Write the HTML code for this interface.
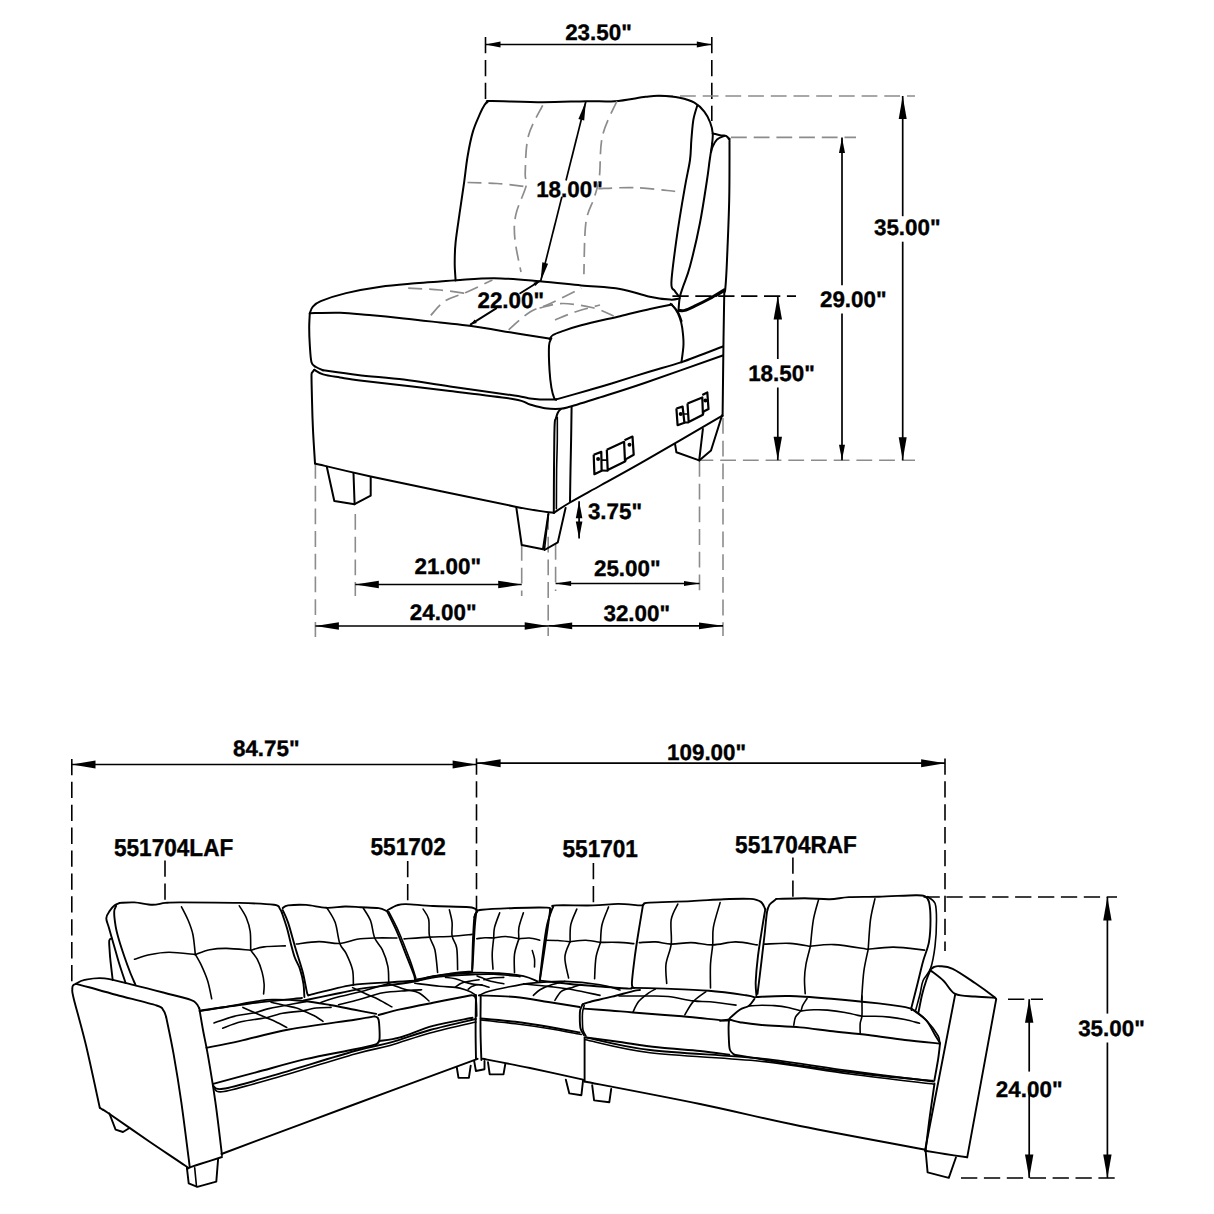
<!DOCTYPE html>
<html><head><meta charset="utf-8"><style>
html,body{margin:0;padding:0;background:#fff;}
body{width:1214px;height:1214px;overflow:hidden;}
svg{display:block;}
.o{fill:none;stroke:#000;stroke-width:2;stroke-linecap:round;stroke-linejoin:round;}
.s{fill:none;stroke:#000;stroke-width:1.9;stroke-linecap:round;stroke-linejoin:round;}
.f{fill:none;stroke:#000;stroke-width:1.6;stroke-linecap:round;stroke-linejoin:round;}
.d{fill:none;stroke:#000;stroke-width:1.7;}
.a{fill:none;stroke:#000;stroke-width:3;stroke-linecap:round;}
.h{fill:none;stroke:#000;stroke-width:2.2;stroke-linejoin:round;}
.g{fill:none;stroke:#8c8c8c;stroke-width:1.6;stroke-dasharray:15.8 6.9;}
.gc{fill:none;stroke:#8c8c8c;stroke-width:1.7;stroke-dasharray:14 7;}
.k{fill:none;stroke:#000;stroke-width:1.6;stroke-dasharray:16.3 6.6;}
.ah{fill:#000;stroke:none;}
.t{font-family:"Liberation Sans",sans-serif;font-weight:bold;fill:#000;stroke:#000;stroke-width:0.35;text-rendering:geometricPrecision;}
</style></head><body>
<svg width="1214" height="1214" viewBox="0 0 1214 1214">
<path class="k" d="M485.5 37L485.5 101"/>
<path class="k" d="M711.8 37L711.8 121"/>
<path class="d" d="M485.5 44.5L711.8 44.5"/>
<path class="ah" d="M485.5 44.5L500.5 41.5L500.5 47.5Z"/>
<path class="ah" d="M711.8 44.5L696.8 47.5L696.8 41.5Z"/>
<text class="t" x="598.5" y="40" font-size="22.4" text-anchor="middle">23.50"</text>
<path class="g" d="M657.3 96L915 96"/>
<path class="g" d="M731 137.4L856 137.4"/>
<path class="g" d="M697.5 460.2L915 460.2"/>
<path class="k" d="M672.4 296.1L796 296.1"/>
<path class="d" d="M902.7 96L902.7 216.2"/>
<path class="d" d="M902.7 241.7L902.7 460.2"/>
<path class="ah" d="M902.7 96L906.7 119L898.7 119Z"/>
<path class="ah" d="M902.7 460.2L898.7 437.2L906.7 437.2Z"/>
<text class="t" x="907.3" y="234.6" font-size="22.4" text-anchor="middle">35.00"</text>
<path class="d" d="M842 137.4L842 285.2"/>
<path class="d" d="M842 313.6L842 460.2"/>
<path class="ah" d="M842 137.4L845 152.9L839 152.9Z"/>
<path class="ah" d="M842 460.2L839 444.7L845 444.7Z"/>
<text class="t" x="853.3" y="306.8" font-size="22.4" text-anchor="middle">29.00"</text>
<path class="d" d="M777.8 296.1L777.8 359"/>
<path class="d" d="M777.8 387.5L777.8 460.2"/>
<path class="ah" d="M777.8 296.1L782 319.6L773.6 319.6Z"/>
<path class="ah" d="M777.8 460.2L773.6 436.7L782 436.7Z"/>
<text class="t" x="781.5" y="381" font-size="22.4" text-anchor="middle">18.50"</text>
<path class="d" d="M585.9 101.2L566 180.5"/>
<path class="d" d="M561.9 196.7L540.6 281.4"/>
<path class="ah" d="M585.9 101.2L584.2 120.4L578.4 118.9Z"/>
<path class="ah" d="M540.6 281.4L542.3 262.2L548.1 263.7Z"/>
<text class="t" x="569.5" y="196.9" font-size="22.4" text-anchor="middle">18.00"</text>
<path class="s" d="M539.5 281.2L520.2 293.3"/>
<path class="s" d="M496.2 308.4L470.7 324.4"/>
<path class="ah" d="M539.5 281.2L535.5 286.1L533.4 282.7Z"/>
<path class="ah" d="M470.7 324.4L474.7 319.5L476.8 322.9Z"/>
<text class="t" x="510.8" y="307.7" font-size="22.4" text-anchor="middle">22.00"</text>
<path class="g" d="M315.4 463L315.4 637"/>
<path class="g" d="M355.3 514L355.3 596"/>
<path class="g" d="M521.7 545L521.7 596"/>
<path class="g" d="M548.2 514L548.2 636"/>
<path class="g" d="M555.6 544L555.6 591"/>
<path class="g" d="M699.5 461L699.5 591"/>
<path class="g" d="M723 418L723 636"/>
<path class="d" d="M355.3 584.5L521.7 584.5"/>
<path class="ah" d="M355.3 584.5L378.8 580.7L378.8 588.3Z"/>
<path class="ah" d="M521.7 584.5L498.2 588.3L498.2 580.7Z"/>
<text class="t" x="447.8" y="574.2" font-size="22.4" text-anchor="middle">21.00"</text>
<path class="d" d="M315.4 626L548.2 626"/>
<path class="ah" d="M315.4 626L338.9 622.2L338.9 629.8Z"/>
<path class="ah" d="M548.2 626L524.7 629.8L524.7 622.2Z"/>
<text class="t" x="443.2" y="620.3" font-size="22.4" text-anchor="middle">24.00"</text>
<path class="d" d="M555.6 583.5L699.5 583.5"/>
<path class="ah" d="M555.6 583.5L571.1 580.9L571.1 586.1Z"/>
<path class="ah" d="M699.5 583.5L684 586.1L684 580.9Z"/>
<text class="t" x="627.3" y="575.7" font-size="22.4" text-anchor="middle">25.00"</text>
<path class="d" d="M548.2 625.8L723 625.8"/>
<path class="ah" d="M548.2 625.8L572.2 622.4L572.2 629.2Z"/>
<path class="ah" d="M723 625.8L699 629.2L699 622.4Z"/>
<text class="t" x="636.8" y="621.3" font-size="22.4" text-anchor="middle">32.00"</text>
<path class="d" d="M579.1 501.2L579.1 538.5"/>
<path class="ah" d="M579.1 501.2L582.4 518.2L575.8 518.2Z"/>
<path class="ah" d="M579.1 538.5L575.8 521.5L582.4 521.5Z"/>
<text class="t" x="615" y="519" font-size="22.4" text-anchor="middle">3.75"</text>
<path class="o" d="M455.6 280.5C455.5 277.6 454.7 269.6 454.7 263.2C454.7 256.8 454.7 251.1 455.6 242.4C456.5 233.7 458.5 221.3 459.9 211.2C461.3 201.1 462.9 191 464.2 181.8C465.5 172.6 466.2 164.2 467.7 155.8C469.1 147.4 470.9 138.5 472.9 131.6C474.9 124.7 477.9 118.6 479.8 114.2C481.7 109.8 483.2 107 484.5 105C485.8 103 486.2 102.7 487.5 102C488.8 101.3 482.8 101 492 101C501.2 101 527.1 102.2 542.7 102.2C558.4 102.2 573.9 101.4 585.9 101.2C597.9 101 604.8 101.9 614.7 101.2C624.7 100.5 638.1 97.7 645.6 96.8C653.1 95.9 654.1 95.6 659.8 95.8C665.5 96 673.8 96.6 679.6 97.8C685.4 99 690.3 100.4 694.4 102.7C698.5 105 701.7 108.4 704.3 111.7C706.9 115 708.8 118.9 710.2 122.5C711.6 126.1 712.4 129.9 712.7 133.4C713 136.9 712.3 141.7 712.2 143.3"/>
<path class="o" d="M697.4 105.2C696.7 107.6 694.4 113.9 693.4 119.6C692.4 125.3 692 132.6 691.4 139.3C690.8 146 691.1 151.9 690 160C688.9 168.1 687 174.5 684.8 187.7C682.5 200.9 678.7 223.4 676.5 239.2C674.3 255 671.7 273.8 671.4 282.4C671.1 291 673.3 288.4 674.5 290.6C675.7 292.8 677.9 294.9 678.6 295.8"/>
<path class="o" d="M712.2 143.3C711.8 146.1 710.6 153.9 709.7 160C708.8 166.1 708.6 169.6 707 180C705.4 190.4 702.8 208.3 700 222.7C697.2 237.1 692.8 255.7 690 266.3C687.2 276.9 684.8 281.4 683.1 286.5C681.4 291.6 680.6 293.2 679.8 297.2C679 301.2 678.7 308.2 678.5 310.4"/>
<path class="o" d="M712.7 133.4C714.1 133.7 718.9 135 721.1 135.4C723.3 135.8 724.7 135.2 726 135.9C727.3 136.6 728.4 137.9 729 139.3C729.6 140.7 729.5 134.2 729.5 144.3C729.5 154.4 729.6 180.7 729.2 200C728.8 219.3 727.6 245.2 727 260C726.4 274.8 725.8 283.6 725.3 288.8C724.8 294 724.5 290.6 724.3 291"/>
<path class="s" d="M724.5 135.8C723.2 136.4 719 137.6 717 139.5C715 141.4 713.5 144.9 712.5 147C711.5 149.1 711.4 151.2 711.2 152"/>
<path class="a" d="M679 310.4C680 310.4 682.1 311.1 684.7 310.4C687.3 309.7 690.5 308.1 694.6 306.2C698.7 304.3 704.5 301.5 709.4 298.8C714.3 296.1 721.8 291.3 724.3 289.8"/>
<path class="f" d="M716 296.4L724.3 291.4"/>
<path class="o" d="M724.3 291C724.2 299.2 723.8 319.2 723.5 340C723.2 360.8 722.8 403.3 722.6 416"/>
<path class="gc" d="M542.7 105.3C540.3 110.4 531.2 124.9 528.3 136.2C525.4 147.5 525.6 165.1 525.2 173.3C524.9 181.5 527.8 178.8 526.2 185.6C524.7 192.4 517.8 205.5 515.9 214.4C514 223.3 514 229.6 514.9 239.2C515.8 248.8 520 266.5 521 272"/>
<path class="gc" d="M616.8 101.2C614.4 107 605.3 123.5 602.4 136.2C599.5 148.9 600.7 167.1 599.3 177.4C597.9 187.7 596.3 190.4 594.1 198C591.9 205.6 587.6 210 585.9 222.7C584.2 235.4 584.2 265.6 583.9 274.2"/>
<path class="gc" d="M467.5 182.5C472.4 182.7 487.2 182.8 497 183.5C506.8 184.2 521.3 186.1 526.2 186.6"/>
<path class="gc" d="M598.3 188.7C604.5 188.5 622.4 187.2 635.3 187.7C648.2 188.1 668.8 190.8 675.5 191.4"/>
<path class="o" d="M309.8 313.2C310.3 312.1 310.9 308.9 312.7 306.9C314.5 304.9 315.2 303.4 320.8 301.1C326.4 298.8 336.1 295.5 346.1 293.1C356.1 290.7 369.2 288.3 380.7 286.7C392.2 285.1 405.4 284.2 415.3 283.3C425.2 282.4 433.1 282 440 281.5C446.9 281 447.4 280.9 456.4 280.3C465.4 279.8 480.3 278.1 494.2 278.2C508.1 278.3 525 280 539.5 281.2C554 282.4 567.8 284.1 581.2 285.4C594.6 286.7 608.8 287.2 620 289C631.2 290.8 640.2 294.6 648.5 296.4C656.8 298.2 664.8 299.2 670 299.6C675.2 300 678 298.7 679.6 298.5"/>
<path class="o" d="M309.8 313.2C314.9 313.1 330.5 312.4 340.4 312.7C350.3 313 358.6 314.1 369.2 315C379.8 315.9 392 317.1 403.8 318.4C415.6 319.6 428.8 321.2 440 322.5C451.2 323.8 458.9 324.2 471.3 326C483.7 327.8 501.3 330.9 514.2 333C527.2 335.1 543.2 337.6 549 338.5"/>
<path class="o" d="M549.5 339C550.1 338.3 551 336.2 553 335C555 333.8 556.6 333.2 561.3 331.6C566 330 571.4 327.9 581.2 325.3C591 322.7 608.5 318.9 620 316.2C631.5 313.5 641.3 310.9 650 309C658.7 307.1 668.3 305.2 672 304.5"/>
<path class="o" d="M309.8 313.2C309.7 315.6 309.2 322.4 309.2 327.7C309.2 333 309.4 339.2 309.8 345C310.2 350.8 310.5 358.6 311.5 362.3C312.5 366 314.1 365.7 316 367C317.9 368.3 321.9 369.8 323.1 370.3"/>
<path class="o" d="M323.1 370.3C328.9 371.1 344.2 373.4 357.7 375C371.1 376.6 388.4 377.7 403.8 379.6C419.2 381.5 431.6 383.8 450 386.4C468.4 389 500.9 393.5 514.2 395.5C527.5 397.5 525.7 397.9 530 398.5C534.3 399.1 535.6 399.2 540 399.4C544.4 399.5 553.6 399.4 556.3 399.4"/>
<path class="o" d="M551.4 338.2C551 339.5 549.3 340.7 549 346C548.7 351.3 549.1 363.1 549.5 370C549.9 376.9 550.6 383 551.4 387.7C552.2 392.4 553.5 396.4 554.3 398.4C555.1 400.3 556 399.2 556.3 399.4"/>
<path class="o" d="M556.3 399.4C561.8 397.8 580 392.7 589.4 390C598.8 387.3 602.3 386.3 612.4 383.2C622.5 380.1 638.5 375 650 371.5C661.5 368 669.5 366.3 681.6 362.1C693.7 357.9 715.9 349.1 722.7 346.5"/>
<path class="o" d="M670.7 303.8C671.5 304.8 674.2 307.2 675.7 309.5C677.2 311.8 678.7 314.8 679.8 317.8C680.9 320.8 681.6 323.3 682.2 327.7C682.8 332.1 683.6 338.3 683.5 344.1C683.4 349.9 681.8 359.3 681.4 362.3"/>
<path class="f" d="M672.4 305.4C673.4 306.5 676.5 309.4 678.1 312C679.7 314.6 681.2 319.6 681.8 321.1"/>
<path class="gc" d="M408.2 288.1C413.5 288.4 430.2 289.1 440 290C449.8 290.9 462.5 293 467 293.6"/>
<path class="gc" d="M430.8 315.3C433.2 312.9 439 304.9 445 301C451 297.1 459.1 295.5 467 292C474.9 288.5 488.2 282 492.4 280"/>
<path class="gc" d="M508.7 329.8C512.2 326.8 523 316.4 530 312C537 307.6 541.9 307.5 550.4 303.5C558.9 299.5 576.1 290.7 581.2 288.1"/>
<path class="gc" d="M539.5 308C543.4 307.2 553.9 303.5 563 303.5C572.1 303.5 585.5 305.9 594 308C602.5 310.1 610.5 314.8 613.8 316.2"/>
<path class="gc" d="M555 320C558.3 318.7 567.5 314.5 575 312C582.5 309.5 595.8 306.2 600 305"/>
<path class="o" d="M314.4 369.8C314 370.2 312.7 371.5 312.2 372.5C311.7 373.5 311.5 371.4 311.5 376C311.5 380.6 311.8 391 312 400C312.2 409 312.5 419.4 313 430C313.5 440.6 314.7 457.9 315 463.5"/>
<path class="o" d="M314.4 369.8C315.8 370.6 318.8 373.1 323.1 374.4C327.4 375.7 333.1 376.4 340 377.5C346.9 378.6 346 378.8 364.3 381C382.6 383.2 425.1 388 450 391C474.9 394 500.7 396.9 514 399.2C527.3 401.4 524.8 403 530 404.5C535.2 406 540 407.5 545 408.2C550 408.9 555.7 409 559.8 408.8C563.9 408.6 563 408.7 569.7 406.8C576.4 404.9 587.4 401.4 600 397.4C612.6 393.4 624.8 389.7 645.3 382.7C665.8 375.7 709.8 360 722.7 355.5"/>
<path class="o" d="M315 463.5C324.3 465.6 337.5 469.2 370.7 476.4C403.9 483.5 483.7 500.3 514.2 506.4C544.7 512.5 547.2 511.7 553.8 512.8"/>
<path class="o" d="M560.8 409C560.3 409.6 558.6 411.1 557.8 412.7C557 414.3 556.3 417.1 555.8 418.7C555.3 420.3 555 418.6 554.8 422.1C554.5 425.7 554.4 432 554.3 440C554.2 448 554.1 457.9 554 470C553.9 482.1 553.8 505.7 553.8 512.8"/>
<path class="f" d="M557.3 417.2C557.3 421 557.4 431.2 557.3 440C557.2 448.8 556.8 458.5 556.6 470C556.5 481.5 556.4 502.3 556.4 508.8"/>
<path class="o" d="M571.6 406.8C571.5 412.3 571.3 429.5 571.1 440C570.9 450.5 570.7 459.8 570.5 470C570.3 480.2 570.1 496 570 501.2"/>
<path class="o" d="M553.8 512.8C556.5 511.1 562.1 507.1 570 502.5C577.9 497.9 588.8 492 601.3 485C613.8 478 624.8 472.2 645 460.6C665.2 449 709.5 423.1 722.4 415.6"/>
<path class="o" d="M326.8 466.7L334.3 501L354.6 504.2L370.7 495.7L370.7 477.5"/>
<path class="o" d="M353.5 473.2L354.6 504.2"/>
<path class="o" d="M516.3 507.4L521.7 545L543 549.2L548.4 513.9"/>
<path class="f" d="M548.4 514L544.5 549.5"/>
<path class="o" d="M565.6 507.9L557.8 542.4L544.5 550"/>
<path class="o" d="M675.1 444.3L676.4 452.3L699.2 460.4L711 450.5L722.1 415.3"/>
<path class="o" d="M702.9 428.9L699.2 460.4"/>
<path class="h" d="M593.7 454.7L601.3 451.9L601.6 470.7L594.4 474.2L593.7 454.7"/>
<path class="f" d="M601.6 460.1L606.8 460.1"/>
<path class="s" d="M601.8 470.5L607.7 470.7"/>
<path class="h" d="M606.8 449.7L624.1 441.8L625 461.6L607.7 470L606.8 449.7"/>
<path class="h" d="M624.5 440.3L632.5 436.6L633.7 454.7L626 459.1L625 461.6"/>
<circle cx="598.1" cy="459.1" r="2" fill="#000"/>
<circle cx="629.5" cy="444.8" r="2" fill="#000"/>
<path class="h" d="M676.4 408.5L682.6 406.6L684.4 422.7L677.6 425.2L676.4 408.5"/>
<path class="f" d="M684.4 414L687.5 414"/>
<path class="s" d="M684.4 422.5L688.1 422.5"/>
<path class="h" d="M687.5 403.5L702.3 397.4L702.9 414.7L688.7 422.1L687.5 403.5"/>
<path class="h" d="M702.3 394.9L707.3 392.4L708.5 409.1L703.6 411.6L702.9 414.7"/>
<circle cx="680.7" cy="414" r="2" fill="#000"/>
<circle cx="705.4" cy="400.4" r="2" fill="#000"/>
<path class="k" d="M71.8 758.9L71.8 982"/>
<path class="k" d="M476.5 758.4L476.5 911"/>
<path class="k" d="M945 758.4L945 951"/>
<path class="d" d="M71.8 764.5L476.3 764.5"/>
<path class="ah" d="M71.8 764.5L95.5 760.5L95.5 768.5Z"/>
<path class="ah" d="M476.3 764.5L452.6 768.5L452.6 760.5Z"/>
<text class="t" x="266.3" y="756" font-size="22.4" text-anchor="middle">84.75"</text>
<path class="d" d="M476.7 763.2L945 763.2"/>
<path class="ah" d="M476.7 763.2L500.6 759.2L500.6 767.2Z"/>
<path class="ah" d="M945 763.2L921.1 767.2L921.1 759.2Z"/>
<text class="t" x="706.6" y="760" font-size="22.4" text-anchor="middle">109.00"</text>
<text class="t" transform="translate(173.6 856.4) scale(1 1.08)" font-size="22.6" text-anchor="middle">551704LAF</text>
<text class="t" transform="translate(408.2 854.5) scale(1 1.08)" font-size="22.6" text-anchor="middle">551702</text>
<text class="t" transform="translate(600.2 857) scale(1 1.08)" font-size="22.6" text-anchor="middle">551701</text>
<text class="t" transform="translate(796 853.4) scale(1 1.08)" font-size="22.6" text-anchor="middle">551704RAF</text>
<path class="k" d="M165 860.5L165 903"/>
<path class="k" d="M407.7 861L407.7 904"/>
<path class="k" d="M593.4 863L593.4 904"/>
<path class="k" d="M792.9 857.5L792.9 900"/>
<path class="k" d="M923.5 897L1117 897"/>
<path class="k" d="M1008 999.2L1043 999.2"/>
<path class="k" d="M961 1178L1119 1178"/>
<path class="d" d="M1107.4 897L1107.4 1013.6"/>
<path class="d" d="M1107.4 1042.5L1107.4 1177.9"/>
<path class="ah" d="M1107.4 897L1111.6 920.5L1103.2 920.5Z"/>
<path class="ah" d="M1107.4 1177.9L1103.2 1154.4L1111.6 1154.4Z"/>
<text class="t" x="1111.5" y="1035.5" font-size="22.4" text-anchor="middle">35.00"</text>
<path class="d" d="M1029.2 999.2L1029.2 1071.6"/>
<path class="d" d="M1029.2 1092.1L1029.2 1177.9"/>
<path class="ah" d="M1029.2 999.2L1033.4 1022.7L1025 1022.7Z"/>
<path class="ah" d="M1029.2 1177.9L1025 1154.4L1033.4 1154.4Z"/>
<text class="t" x="1029.2" y="1096.7" font-size="22.4" text-anchor="middle">24.00"</text>
<path class="s" d="M76 983.8C75.5 984.1 73.6 984.6 73 985.5C72.4 986.4 72.2 986.8 72.3 989C72.4 991.2 71.5 989.6 73.8 999C76.1 1008.4 81.7 1027.2 86 1045.3C90.3 1063.4 97.5 1097.4 99.8 1107.8"/>
<path class="s" d="M99.8 1107.8C100.3 1108.2 101.7 1109.2 103 1110C104.3 1110.8 99.6 1107.2 107.4 1112.5C115.2 1117.8 137.1 1133.2 150 1142C162.9 1150.8 178.8 1161.2 185 1165.6C191.2 1170 186.7 1167.9 187 1168.4"/>
<path class="s" d="M166.1 1016.8C167.4 1023.1 171.2 1040.5 173.7 1054.7C176.2 1068.9 178.6 1083.3 181.3 1102.1C184 1120.9 188.4 1156.6 189.8 1167.5"/>
<path class="s" d="M76 983.8C78.3 984.4 83.2 985.6 90 987.5C96.8 989.4 105.7 992 116.8 995C127.9 998 148.8 1003 156.6 1005.5C164.3 1008 161.7 1008.3 163.3 1010.2C164.9 1012.1 165.6 1015.7 166.1 1016.8"/>
<path class="s" d="M76 983.8C77.4 983.1 79.8 980.8 84.6 979.9C89.3 979 96 977.4 104.5 978.4C113 979.4 125.7 983.2 135.8 985.6C145.9 988 155.8 990.6 165 993C174.2 995.4 185.5 998 190.7 999.8C195.9 1001.6 195 1002.2 196.4 1003.6C197.8 1005 198.8 1007.5 199.3 1008.3"/>
<path class="s" d="M199.3 1008.3C199.9 1011.9 201.6 1022.3 203 1030C204.4 1037.7 205.7 1042.7 207.8 1054.7C209.9 1066.7 213 1085.3 215.4 1102.1C217.8 1118.8 220.9 1146.3 222 1155.2"/>
<path class="s" d="M187 1168.4C189.2 1167.7 194.2 1165.9 200 1164C205.8 1162.1 218.3 1158.2 222 1157"/>
<path class="s" d="M109.4 1113.5L115.6 1129.6L123 1132L129.5 1128"/>
<path class="s" d="M186.9 1167.8L188.7 1183.4L197.3 1186.9L216.3 1181.7L218.1 1159.2"/>
<path class="f" d="M194.7 1167.9L196.5 1186.5"/>
<path class="s" d="M119.7 902.9C118.9 903.3 116.4 904 114.7 905.3C113 906.6 111.2 908.6 109.8 910.8C108.4 912.9 106.4 915.3 106.3 918.2C106.2 921.1 107.8 923.6 109 928C110.2 932.4 112 938.6 113.7 944.4C115.4 950.2 117 956.6 119 963C121 969.4 124.5 979.7 125.6 983"/>
<path class="s" d="M111.8 938.5C111.4 938.8 109.7 938.5 109.3 940.4C108.9 942.3 109.4 946.9 109.6 950C109.8 953.1 109.8 954.2 110.3 959.2C110.8 964.2 112.3 976.5 112.7 980"/>
<path class="s" d="M119.7 902.9C122.2 902.8 129.1 902.1 134.5 902.4C139.9 902.7 147.2 904.7 152.3 904.8C157.4 904.9 160.6 903.3 165.2 902.9C169.8 902.5 167.7 902.4 180 902.4C192.3 902.4 223.6 902.5 239.3 902.9C255 903.3 267.2 903.8 274 904.8C280.8 905.8 278.6 907.5 279.9 908.8C281.2 910.1 281.6 912.1 281.9 912.8"/>
<path class="s" d="M116.2 905.8C115.9 906.8 114.3 908.3 114.2 911.8C114.1 915.3 114.9 921.9 115.7 926.6C116.5 931.3 117.5 934.9 119 940C120.5 945.1 122.8 952 124.6 957.3C126.4 962.6 128.2 967.4 130 972C131.8 976.6 134.6 982.8 135.5 985"/>
<path class="s" d="M281.9 912.8C282.7 915.3 285.3 922.5 286.8 927.6C288.3 932.7 289.5 938.5 290.8 943.4C292.1 948.3 293.2 953 294.7 957.3C296.2 961.6 298.5 964.6 300 969.1C301.5 973.6 302.8 979.6 303.5 984.2C304.2 988.9 304.2 994.9 304.4 997"/>
<path class="f" d="M181.5 906.8C182.6 908.9 186 915.1 187.9 919.7C189.8 924.3 191.7 928.7 192.9 934.5C194.1 940.3 194.9 951 195.3 954.3"/>
<path class="f" d="M195.3 954.3C196.2 955.9 198.7 959.8 200.8 964.2C202.9 968.7 205.9 975.2 207.7 981C209.5 986.8 211 995.8 211.7 998.8"/>
<path class="f" d="M239.3 905.8C240.5 907.8 244.5 913.4 246.3 917.7C248.1 922 249.5 926.1 250.2 931.5C250.9 936.9 250.6 947.2 250.7 950.3"/>
<path class="f" d="M250.7 950.3C251.8 951.8 255.3 955.6 257.2 959.2C259.1 962.8 261 968 262.1 972.1C263.2 976.2 263.9 980.4 264.1 984C264.4 987.6 263.7 992.2 263.6 993.9"/>
<path class="f" d="M134.5 959.2C137 958.5 143.5 955.9 149.3 954.8C155.1 953.6 161.4 952.3 169.1 952.3C176.8 952.3 190.9 954.2 195.3 954.6"/>
<path class="f" d="M195.3 954.6C197.7 953.8 204.5 950.8 209.7 949.8C214.9 948.8 219.7 948.3 226.5 948.4C233.3 948.5 246.7 950 250.7 950.3"/>
<path class="f" d="M250.7 950.3C252.9 949.7 258.3 947.6 264.1 946.9C269.9 946.2 281.8 946.1 285.3 945.9"/>
<path class="s" d="M199.6 1011C208 1009.8 232.9 1005.7 250 1003.5C267.1 1001.3 293.3 998.9 302 998"/>
<path class="s" d="M282.7 908.1C283.6 907.6 284.2 905.9 288.1 905.4C292 904.9 299.9 904.5 306.2 904.9C312.5 905.3 319.7 907.5 326.2 907.8C332.7 908.1 339.3 906.6 345 906.5C350.7 906.4 355 906.9 360.6 907.2C366.2 907.5 374.5 907.5 378.7 908.1C382.9 908.7 384.8 910.3 386 910.8"/>
<path class="s" d="M282.7 910C283.6 912.1 286 916.3 288.1 922.6C290.2 928.9 293 939.8 295.4 948C297.8 956.2 300.6 964.1 302.6 971.6C304.6 979.1 306.1 989.4 307.2 993.3C308.3 997.2 308.7 994.8 309 995.1"/>
<path class="s" d="M309 995.1C316.1 993.4 338.5 987.2 351.6 985.1C364.7 983 377.2 983.1 387.8 982.4C398.4 981.6 410.5 980.9 415 980.6"/>
<path class="s" d="M386.9 910.8C388.6 914.3 393.4 923.7 396.9 931.7C400.4 939.7 404.8 951.7 407.7 958.9C410.6 966.1 412.8 971.6 414 975C415.2 978.4 414.8 978.8 415 979.5"/>
<path class="f" d="M388.7 911.7C390.4 915 395.2 923.8 398.7 931.7C402.2 939.6 406.6 951.2 409.5 958.9C412.4 966.6 414.8 974.8 415.8 978"/>
<path class="f" d="M327.1 908.1C328.5 910.5 333.1 916.7 335.2 922.6C337.3 928.5 338 938.4 339.8 943.5C341.6 948.6 344 949 346.1 953.4C348.2 957.8 351.3 964.4 352.5 969.7C353.7 975 353.2 982.5 353.4 985.1"/>
<path class="f" d="M363.3 908.1C364.5 910.2 368.7 915.8 370.6 920.8C372.5 925.8 372.7 933.2 374.7 938C376.7 942.8 380.2 945.1 382.4 949.8C384.6 954.5 386.8 960.7 387.8 966.1C388.9 971.5 388.6 979.7 388.7 982.4"/>
<path class="f" d="M296.3 944C300.1 943.6 311.6 941.7 318.9 941.6C326.1 941.5 333.4 943.9 339.8 943.5C346.2 943.1 351.2 940.2 357 939.3C362.8 938.4 368.1 938.2 374.7 938C381.3 937.8 393.2 938 396.9 938"/>
<path class="s" d="M387.8 910C389.3 909.2 393.9 906.4 396.9 905.4C399.9 904.4 399.9 904 405.9 904.1C411.9 904.2 422.5 905.5 433.1 906C443.7 906.5 462.1 906.5 469.3 907.2C476.6 907.9 475.4 909.5 476.6 910"/>
<path class="s" d="M476.6 910C476.3 912.7 475.4 918.1 474.8 926.2C474.2 934.4 473.4 951.3 473 958.9C472.6 966.5 472.2 969.5 472.1 971.6"/>
<path class="s" d="M415 979.7C421 978.7 441.7 974.8 451.2 973.4C460.7 972 468.6 971.9 472.1 971.6"/>
<path class="f" d="M423.1 909C424 910.7 427.5 914.5 428.6 919C429.7 923.5 428.4 931.1 429.5 936.2C430.6 941.3 433.5 943.8 434.9 949.8C436.2 955.8 437.2 968.7 437.6 972.5"/>
<path class="f" d="M449.4 909.9C449.8 912 451.7 918.2 452.1 922.6C452.6 927 451.3 932 452.1 936.2C452.9 940.4 455.8 942.4 456.7 948C457.6 953.6 457.5 966.1 457.6 969.7"/>
<path class="f" d="M404.1 938.9C408.3 938.6 421.5 937.5 429.5 937.1C437.5 936.7 445 936.7 452.1 936.2C459.2 935.8 468.8 934.7 472.1 934.4"/>
<path class="s" d="M474.4 917.2C474.8 916.4 475.4 913.3 476.7 912.1C477.9 910.9 475.6 910.5 481.9 909.8C488.2 909.1 503.6 908.4 514.5 908C525.4 907.6 541.2 907.3 547.1 907.6C553 907.9 549.6 909.4 550.1 909.8"/>
<path class="s" d="M550.1 909.8C550 910.7 550 911.3 549.5 915C549 918.7 548.2 924.3 547.1 932.1C546 939.9 543.9 953.6 542.7 961.7C541.5 969.9 540.2 977.8 539.7 981"/>
<path class="s" d="M476.7 912.1C476.3 913 475 912.6 474.4 917.2C473.8 921.8 473.4 930.9 473 939.5C472.6 948.1 472.3 964.2 472.2 969.1"/>
<path class="f" d="M499.7 912.8C498.8 915.3 495.5 923.4 494.5 927.6C493.5 931.8 493.8 936.3 493.7 938"/>
<path class="f" d="M493.7 938C493.4 940.7 492.3 949.1 492.2 954.3C492.1 959.5 492.9 966.6 493 969.1"/>
<path class="f" d="M523.4 912.8C522.6 915.3 519.6 923.3 518.9 927.6C518.1 931.9 518.9 936.9 518.9 938.7"/>
<path class="f" d="M518.9 938.7C518.2 941.3 515.2 948.6 514.5 954.3C513.8 960 514.5 969.7 514.5 972.8"/>
<path class="f" d="M476.7 938.7C478.1 938.6 482.2 937.9 485 937.8C487.8 937.7 492.2 938 493.7 938"/>
<path class="f" d="M493.7 938C495.7 937.8 501.4 936.4 505.6 936.5C509.8 936.6 516.7 938.3 518.9 938.7"/>
<path class="f" d="M518.9 938.7C520.6 938.6 525.8 937.8 529.3 938C532.8 938.2 538 939.8 539.7 940.2"/>
<path class="f" d="M532.3 950.6C532.7 952 534.1 956.1 534.5 958.8C534.9 961.5 534.5 965.5 534.5 966.9"/>
<path class="s" d="M553 906.9C553.5 906.6 549.3 905.6 556 905.4C562.7 905.1 582.7 905.6 593.1 905.4C603.5 905.1 610.4 903.9 618.3 903.9C626.2 903.9 636.3 905.3 640.5 905.4C644.7 905.5 643 904.7 643.5 904.6"/>
<path class="s" d="M553 906.9C552 909.9 548.8 916.8 547.1 924.7C545.4 932.6 543.9 944.9 542.7 954.3C541.5 963.7 540.2 976.5 539.7 981"/>
<path class="f" d="M576.8 909.1C575.8 911.7 571.9 919.3 570.8 924.7C569.7 930.1 570.2 938.9 570.1 941.7"/>
<path class="f" d="M570.1 941.7C569.2 944.3 565.1 951.2 564.9 957.3C564.6 963.3 568 974.5 568.6 978"/>
<path class="f" d="M608.6 906.9C607.5 909.9 603.4 918.8 602 924.7C600.6 930.6 600.8 939.5 600.5 942.4"/>
<path class="f" d="M600.5 942.4C599.8 944.9 597 951.2 596 957.3C595 963.4 594.8 975.2 594.6 978.8"/>
<path class="f" d="M545.6 940.2C547.7 940.2 553.9 940.2 558 940.5C562.1 940.8 568.1 941.5 570.1 941.7"/>
<path class="f" d="M570.1 941.7C572.7 941.5 580.6 940.1 585.7 940.2C590.8 940.3 598 942 600.5 942.4"/>
<path class="f" d="M600.5 942.4C603.5 942.4 612.8 942.2 618.3 942.4C623.8 942.6 631.2 943.4 633.8 943.6"/>
<path class="s" d="M643.7 904.1C644.7 903.9 641.8 903.1 649.7 902.6C657.6 902.1 678.9 901.7 691.2 901.1C703.6 900.5 713.9 899.6 723.8 899.2C733.7 898.8 744.3 898.5 750.5 898.9C756.7 899.3 758.4 900.2 760.9 901.9C763.4 903.6 764.6 908.1 765.3 909.3"/>
<path class="s" d="M643 904.8C642.4 908.5 640.7 918.5 639.3 927.1C637.9 935.8 636 947.3 634.8 956.7C633.6 966.1 632 978.2 631.9 983.4C631.8 988.6 633.7 987.1 634.1 987.9"/>
<path class="s" d="M765.3 909.3C764.8 912.3 763.5 919.2 762.3 927.1C761.1 935 759 947.6 757.9 956.7C756.8 965.8 756 975.5 755.7 981.9C755.5 988.3 756.3 993.1 756.4 995.3"/>
<path class="s" d="M540.3 980.6C545.2 981.2 560 983 570 984C580 985 590.2 985.7 600 986.5C609.8 987.3 623.2 988.4 628.9 988.6C634.6 988.8 628.2 987.9 634.1 987.9C640 987.9 652 988.1 664.5 988.6C677 989.1 695.4 989.7 709 990.8C722.6 991.9 738.3 994.2 746 995.3C753.7 996.4 753.5 997.1 755 997.5"/>
<path class="f" d="M677.8 904.1C676.7 906.7 672.3 913 671.2 919.7C670.1 926.4 672.1 936.7 671.2 944.1C670.3 951.5 666.8 957.6 666 964.1C665.2 970.6 666.6 980.2 666.7 983.4"/>
<path class="f" d="M720.1 902.6C719 906.7 714.6 920.1 713.4 927.1C712.2 934.1 713.2 938.7 712.7 944.9C712.2 951.1 710.9 956.9 710.5 964.1C710.1 971.3 710.5 983.9 710.5 987.9"/>
<path class="f" d="M639.3 942.6C642 942.5 650.3 941.6 655.6 941.9C660.9 942.1 665.3 944 671.2 944.1C677.1 944.2 684.3 942.5 691.2 942.6C698.1 942.7 705.3 945 712.7 944.9C720.1 944.8 728.3 941.9 735.7 941.9C743.1 941.9 753.6 944.4 757.2 944.9"/>
<path class="s" d="M776.3 898.9C775.2 899.9 771 902.6 769.5 904.8C768 907 767.8 907.2 767 912.2C766.2 917.2 765.5 926.3 764.6 934.5C763.7 942.7 762.7 951.3 761.5 961.2C760.3 971.1 758.2 988.4 757.5 993.8"/>
<path class="s" d="M776.3 898.9C781 898.8 795.6 898.2 804.5 898.2C813.4 898.2 822.3 899.4 829.7 899.2C837.1 899 840.9 897.5 849 897.1C857.1 896.7 867.5 897 878.6 896.7C889.7 896.4 908 895.3 915.7 895.2C923.4 895.1 922.4 895.1 924.6 896.2C926.8 897.3 928 898 929 901.9C930 905.8 930.5 913 930.5 919.7C930.5 926.4 930.2 935 929 941.9C927.8 948.8 925.1 954 923.1 961.2C921.1 968.4 919.2 977 917.2 984.9C915.2 992.8 912.2 1004.6 911.2 1008.6"/>
<path class="f" d="M927.6 896.7C928.8 897.8 933.5 899.5 935 903.3C936.5 907.1 936.5 912.5 936.5 919.7C936.5 926.9 936 938.1 935 946.3C934 954.4 932.5 962.9 930.5 968.6C928.5 974.3 924.8 976.3 923.1 980.5C921.4 984.7 921.3 988.9 920.1 993.8C918.9 998.7 916.4 1007.4 915.7 1010.1"/>
<path class="f" d="M818.6 899.6C817.7 903 814.8 911.9 813.4 919.7C812 927.5 810.9 941.9 810.4 946.3"/>
<path class="f" d="M810.4 946.3C809.7 949.3 807 958.6 806 964.1C805 969.6 804.6 974 804.5 979C804.4 984 805.1 991.3 805.2 993.8"/>
<path class="f" d="M874.9 898.9C874.2 902.4 871.6 911.3 870.5 919.7C869.4 928.1 868.6 944.4 868.2 949.3"/>
<path class="f" d="M868.2 949.3C867.5 953 864.9 963.2 863.8 971.6C862.7 980 862 995 861.6 999.7"/>
<path class="f" d="M764.4 944.1C768.6 944 782 943 789.7 943.4C797.4 943.8 807 945.8 810.4 946.3"/>
<path class="f" d="M810.4 946.3C814.4 946 824.5 944.1 834.1 944.6C843.7 945.1 862.5 948.5 868.2 949.3"/>
<path class="f" d="M868.2 949.3C872.4 948.9 884.1 947 893.5 947.1C902.9 947.2 919.4 949.6 924.6 950.1"/>
<path class="s" d="M756 997C761.6 996.8 776.7 995.7 789.7 996C802.7 996.3 819.3 997.8 834.1 999C848.9 1000.2 867.5 1002.2 878.6 1003.4C889.7 1004.6 895.5 1005.5 900.9 1006.4C906.3 1007.3 909.5 1008.2 911.2 1008.6"/>
<path class="s" d="M199.9 1010.6C203.8 1010 213.7 1008.8 223 1007.3C232.3 1005.8 247.7 1002.8 255.9 1001.5C264.1 1000.2 264.4 999.7 272.4 999.6C280.4 999.5 294.1 1000.1 303.7 1001C313.3 1001.9 321.5 1003.5 330 1005C338.5 1006.5 347 1008.3 354.7 1009.8C362.4 1011.3 372.6 1013.2 376.2 1013.9"/>
<path class="s" d="M206.5 1047.7C212 1046.6 225.7 1044.1 239.4 1041.1C253.1 1038.1 269.6 1033.1 288.8 1029.5C308 1025.9 340.4 1021.9 354.7 1019.7C369 1017.5 371.2 1017 374.5 1016.4"/>
<path class="s" d="M213.1 1083.9C220.2 1082 240.5 1076.5 255.9 1072.4C271.3 1068.3 288.8 1063.1 305.3 1059.2C321.8 1055.3 342.9 1051.8 354.7 1049.3C366.5 1046.8 372.6 1045.2 376.2 1044.4"/>
<path class="s" d="M374.5 1016.4C375.2 1017 377.8 1015.9 378.6 1019.7C379.4 1023.5 379.9 1035.3 379.5 1039.4C379.1 1043.5 376.8 1043.6 376.2 1044.4"/>
<path class="f" d="M214 1023C217.2 1021.9 226.3 1018.3 233.1 1016.6C239.9 1014.9 251.3 1013.4 255 1012.8"/>
<path class="f" d="M255 1012.8C257.3 1012.1 263.8 1009.8 268.8 1008.6C273.8 1007.4 278.9 1006.7 285 1005.5C291.1 1004.3 302.2 1002.2 305.7 1001.6"/>
<path class="f" d="M222.7 1028.2C225.8 1027.1 233.8 1023.5 241.1 1021.8C248.4 1020.1 262.3 1018.5 266.5 1017.8"/>
<path class="f" d="M266.5 1017.8C269.2 1017 276.5 1014.4 282.6 1013.2C288.8 1012.1 299.9 1011.3 303.4 1010.9"/>
<path class="f" d="M303.4 1010.9C305.5 1010.4 311.5 1008.6 316.1 1008C320.7 1007.4 328.6 1007.5 331.1 1007.4"/>
<path class="f" d="M242.9 1007.4C244.9 1008.3 251.1 1011.1 255 1012.8C258.9 1014.5 263.1 1016.3 266.5 1017.8C269.9 1019.3 272.3 1020.2 275.7 1021.8C279.1 1023.4 284.9 1026.5 286.7 1027.4"/>
<path class="f" d="M271.1 1002.2C273.4 1002.8 280.8 1004.5 285 1005.5C289.2 1006.5 293.4 1007.1 296.5 1008C299.6 1008.9 300.5 1009.6 303.4 1010.9C306.3 1012.1 310.5 1013.8 313.8 1015.5C317.1 1017.2 321.5 1020.3 323 1021.3"/>
<path class="s" d="M303.7 1000.5C308.9 999.4 325.1 996 335 994C344.9 992 353.8 989.9 363 988.4C372.2 986.9 381.4 986.1 390 985C398.6 983.9 407.6 983 414.8 981.5C422 980 423.4 977.8 433 976.3C442.6 974.8 461.5 973.3 472.5 972.8C483.5 972.3 490.3 972.8 498.8 973.3C507.3 973.8 517.1 974.8 523.6 976.1C530.1 977.5 535.3 980.5 537.6 981.4"/>
<path class="s" d="M378.6 1015C382.2 1014.1 390.9 1011.4 400 1009.4C409.1 1007.4 422.2 1004.9 433 1002.8C443.8 1000.6 458.4 997.7 465 996.5C471.6 995.3 470.7 995 472.5 995.4C474.3 995.8 475.1 995.3 475.8 998.7C476.5 1002.1 476.5 1013.1 476.6 1016"/>
<path class="s" d="M379.5 1041C382.9 1040.4 391.1 1039.9 400 1037.4C408.9 1034.9 420.9 1029.2 433 1025.9C445.1 1022.6 465.9 1019.1 472.5 1017.7"/>
<path class="f" d="M320.8 1002.4C323.5 1001.5 330.7 998.9 337.1 997.2C343.5 995.5 350.9 994.3 359.3 992.1C367.7 989.9 382.8 985.3 387.5 983.9"/>
<path class="f" d="M338.6 1004.7C342.1 1003.8 351.9 1001.5 359.3 999.5C366.7 997.5 375.1 994.3 383 992.8C390.9 991.3 400.4 991.1 406.8 990.6C413.2 990.1 419.1 989.9 421.6 989.8"/>
<path class="f" d="M352.6 987.6C355 988.7 362.4 992.3 366.7 994.3C371 996.3 374.4 997.4 378.6 999.5C382.8 1001.6 389.7 1005.7 391.9 1006.9"/>
<path class="f" d="M387.5 983.2C390.2 984.2 398.6 987.5 403.8 989.1C409 990.7 414.4 990.8 418.6 992.8C422.8 994.8 427.3 999.6 429 1001"/>
<path class="f" d="M414.8 983.3C418.9 983.8 432.7 985.6 439.5 986.3C446.3 987 451 986.8 455.4 987.4C459.8 988 463.4 989.2 466 990C468.6 990.8 469.7 991.4 471.2 992.2C472.7 993 474.5 994.3 475.1 994.7"/>
<path class="f" d="M415.5 981.2C419.5 980.5 430.1 977.9 439.5 976.8C448.9 975.7 463.1 975 472.2 974.6C481.3 974.2 485.9 973.9 493.9 974.2C501.9 974.5 515.6 976.2 520 976.6"/>
<path class="f" d="M445.5 977.4C447.1 977.6 452.1 978 455.4 978.8C458.7 979.6 463.6 981.7 465.2 982.3"/>
<path class="f" d="M455.4 987.2C456.4 986.6 459 984.3 461.3 983.3C463.6 982.3 466.2 981.9 469.2 981.3C472.2 980.7 477.5 980 479.1 979.8"/>
<path class="f" d="M468.2 989.2C468.9 988.7 470.4 987 472.2 986.3C474 985.6 476.3 984.6 479.1 984.8C481.9 984.9 487.4 986.8 489 987.2"/>
<path class="f" d="M477.1 975.9C477.9 976.2 480 977 482 977.8C484 978.6 485.4 979.8 489 980.8C492.6 981.8 501.3 983.3 503.8 983.8"/>
<path class="f" d="M484 979.8C485.6 979.5 490.6 978.2 493.9 977.8C497.2 977.4 502.1 977.5 503.8 977.4"/>
<path class="f" d="M465.2 982.3C466.7 982.6 471.3 983.9 474.1 984.3C476.9 984.7 480.7 984.7 482 984.8"/>
<path class="s" d="M213.1 1085.6C214.8 1086.1 213.1 1090.4 223 1088.8C232.9 1087.2 250.4 1082 272.4 1075.7C294.3 1069.4 335.1 1056.5 354.7 1051C374.3 1045.5 377.4 1046.2 390 1042.7C402.6 1039.2 415.7 1034 430 1030C444.3 1026 468.2 1020.8 475.9 1019"/>
<path class="f" d="M214.5 1089C216.1 1089.4 214.2 1093.2 224 1091.5C233.8 1089.8 251.2 1084.8 273 1078.5C294.8 1072.2 335.5 1059.5 355 1054C374.5 1048.5 377.5 1049 390 1045.5C402.5 1042 415.7 1036.9 430 1033C444.3 1029.1 468.2 1023.8 475.9 1022"/>
<path class="s" d="M221.5 1154C242.9 1146 307.3 1121.9 350 1106C392.7 1090.1 456.3 1066.7 477.6 1058.8"/>
<path class="s" d="M456.8 1067.5L458.5 1077.9L468.9 1077.9L470.7 1065.7"/>
<path class="s" d="M474.1 1060.6L475.9 1071L484.5 1069.2L484.5 1061"/>
<path class="s" d="M488 1062.3L489.7 1074.4L503.5 1074.4L505.3 1064"/>
<path class="s" d="M476 995C475.9 1000.8 475.6 1019.3 475.6 1030C475.6 1040.7 475.9 1054.2 476 1059"/>
<path class="s" d="M480.7 995C480.7 1000.8 480.4 1019.2 480.5 1030C480.6 1040.8 481.2 1055 481.4 1060"/>
<path class="s" d="M479 995.4C485.1 995.7 503.7 995.9 515.3 997C526.8 998.1 537.6 1000.3 548.3 1002C559 1003.7 574.4 1006.2 579.6 1007"/>
<path class="f" d="M479 995.4C480.7 994.7 484.3 992.7 489 991.3C493.7 989.9 500 988.6 507.1 987.2C514.2 985.8 522.2 984.1 531.8 983.1C541.4 982.1 553.3 981.1 564.7 981.4C576.1 981.7 590.8 983.3 600 984.7C609.2 986.1 616.7 989.1 620 990"/>
<path class="s" d="M480.7 1018.5C486.5 1019 504 1020.4 515.3 1021.8C526.6 1023.2 537.6 1024.9 548.3 1026.7C559 1028.5 574.4 1031.5 579.6 1032.5"/>
<path class="f" d="M481 1020C486.7 1020.6 504.1 1022.4 515.3 1023.8C526.5 1025.2 537.3 1026.7 548.3 1028.5C559.3 1030.3 575.7 1033.5 581.2 1034.5"/>
<path class="s" d="M482.8 1058.8C490.7 1060.3 513.3 1064.5 530 1068C546.7 1071.5 574.2 1077.7 583.1 1079.6"/>
<path class="f" d="M533.4 995.4C534.5 994.5 537 991.5 540 989.7C543 987.9 547.5 986.1 551.6 984.7C555.7 983.3 562.5 982 564.7 981.4"/>
<path class="f" d="M554.9 1000.4C556 998.9 558.4 993.5 561.4 991.3C564.4 989.1 569.7 988.3 573 987.2C576.3 986.1 579.8 985 581.2 984.5"/>
<path class="f" d="M523.6 983.9C527.7 984.3 540.1 985.4 548.3 986.4C556.5 987.4 564.4 988.2 573 989.7C581.6 991.2 595.5 994.5 600 995.4"/>
<path class="s" d="M565.8 1079.6L569.3 1093.4L581.4 1095.2L583.1 1080"/>
<path class="s" d="M582.6 1004.4C583.5 1004 583.3 1003.6 588.2 1002.3C593.1 1001 604.5 998.6 612 996.7C619.5 994.8 628.3 992.2 633 991.1C637.7 990 638.8 990.2 640 990"/>
<path class="s" d="M582.6 1004.4C582.2 1005.3 580.7 1007.9 580.2 1010C579.7 1012.1 579.8 1014 579.8 1017C579.8 1020 579.8 1025.2 580.5 1028.2C581.2 1031.2 583.4 1034 584 1035.2"/>
<path class="f" d="M584.2 1005.5C583.9 1006.6 582.9 1009.6 582.6 1012C582.3 1014.4 582.3 1017 582.4 1020C582.5 1023 582.4 1027.3 583 1030C583.6 1032.7 585.5 1035 586 1036"/>
<path class="s" d="M584 1008.6C588.3 1008.9 601.8 1009.9 610 1010.5C618.2 1011.1 621 1011.5 633 1012.5C645 1013.5 666.8 1015 682 1016.3C697.2 1017.6 716.3 1019.9 724 1020.5C731.7 1021.1 727.5 1019.9 728.2 1019.8"/>
<path class="s" d="M586 1037.4C591.7 1038.2 608 1040.3 620 1042C632 1043.7 644.4 1045.8 657.7 1047.3C671 1048.8 688.1 1049.8 700 1051C711.9 1052.2 724.4 1054.1 729.3 1054.7"/>
<path class="f" d="M633 1012.1C633.9 1010.4 636 1004.8 638.6 1001.6C641.2 998.5 645.6 995.3 648.4 993.2C651.2 991.1 654.2 989.7 655.4 989"/>
<path class="f" d="M684.8 1014.9C686.2 1012.7 689.7 1005.5 693.2 1001.6C696.7 997.8 703.7 993.4 705.8 991.8"/>
<path class="f" d="M619 996C623.7 996 638.8 995.9 647 996C655.2 996.1 660.3 995.7 668 996.5C675.7 997.3 686.2 1000 693.2 1000.9C700.2 1001.8 702.9 1001.1 710 1001.8C717.1 1002.5 731.7 1004.5 736 1005.1"/>
<path class="s" d="M754.3 999.1C753.4 1000.2 751.4 1003.9 749 1005.7C746.6 1007.5 742.8 1007.8 739.8 1009.7C736.8 1011.6 733 1015.3 731.2 1016.9C729.4 1018.5 729.6 1018 729.2 1019.5C728.8 1021 728.7 1022.7 728.6 1026.1C728.5 1029.5 728.7 1036 728.9 1040C729.1 1044 729.1 1047.5 730 1050C730.9 1052.5 733.6 1053.9 734.3 1054.7"/>
<path class="s" d="M911.2 1008.6C913.7 1010.5 922 1015.8 926 1020.2C930 1024.6 932.7 1031.2 935 1035C937.3 1038.8 939.2 1041.7 940 1043"/>
<path class="s" d="M720 1020.9C721.5 1020.7 725.9 1019.6 729.2 1019.8C732.5 1020 734.8 1021.4 739.8 1022.2C744.8 1023 749.5 1023.9 759.5 1024.8C769.5 1025.7 788.2 1026.4 800 1027.4C811.8 1028.4 818.6 1029.7 830 1031C841.4 1032.3 855.8 1033.5 868.3 1035C880.8 1036.5 893 1038.6 905 1040C917 1041.4 934.2 1043 940 1043.6"/>
<path class="s" d="M734.3 1054.7C738.6 1055.4 750 1057.3 760 1059C770 1060.7 776.1 1062 794.1 1064.6C812.1 1067.2 845.2 1071.8 868.3 1074.5C891.4 1077.2 921.8 1079.7 932.5 1080.7"/>
<path class="s" d="M940 1043.6C939.7 1046.3 939 1053.8 938 1060C937 1066.2 934.9 1077.4 934.3 1080.9"/>
<path class="f" d="M793.8 1025.1C794.1 1023.8 794.3 1019.5 795.5 1017.1C796.7 1014.7 799.6 1012.8 800.8 1010.9C802 1009 801.6 1007.7 802.6 1005.6C803.6 1003.5 806.3 999.7 807 998.5"/>
<path class="f" d="M860.2 1033.1C860.2 1031.5 859.9 1026.1 860.2 1023.3C860.5 1020.5 861.6 1019.3 861.9 1016.3C862.2 1013.2 862 1008.4 862 1005C862 1001.6 862 997.5 862 996"/>
<path class="f" d="M749 1005.9C751.2 1005.8 757.8 1005.2 762 1005.2C766.2 1005.2 770 1005.2 774.3 1005.6C778.6 1006 783.6 1006.6 788 1007.5C792.4 1008.4 798.7 1010.3 800.8 1010.9"/>
<path class="f" d="M800.8 1010.9C803 1010.7 809.6 1009.9 814 1009.8C818.4 1009.7 822.2 1009.6 827.4 1010.1C832.6 1010.6 839.2 1011.5 845 1012.5C850.8 1013.5 859.1 1015.7 861.9 1016.3"/>
<path class="f" d="M861.9 1016.3C864.1 1016.3 870.4 1016.2 875 1016.3C879.6 1016.4 884.4 1016.6 889.4 1017.1C894.4 1017.6 900 1018.5 905 1019.5C910 1020.5 917.1 1022.7 919.5 1023.3"/>
<path class="s" d="M584.6 1037.9C584.6 1041.6 584.6 1052.7 584.6 1060C584.6 1067.3 584.6 1077.9 584.6 1081.5"/>
<path class="s" d="M584.6 1037.1C595.5 1039.2 620.8 1046.5 650 1050C679.2 1053.5 726.7 1054.9 760 1058.4C793.3 1061.9 821.1 1067.2 850 1071C878.9 1074.8 919.3 1079.8 933.2 1081.5"/>
<path class="f" d="M585.5 1039.8C596.2 1042 620.9 1049.2 650 1052.8C679.1 1056.4 726.7 1057.7 760 1061.2C793.3 1064.7 821 1070.2 850 1074C879 1077.8 920 1082.5 934 1084.2"/>
<path class="s" d="M584.6 1081.5C603.8 1085.2 664.1 1096.6 700 1104C735.9 1111.4 762.4 1118.4 800 1126C837.6 1133.6 904.8 1145.8 925.7 1149.7"/>
<path class="s" d="M934.5 1083.5C933.8 1088.8 931.5 1104 930 1115C928.5 1126 926.4 1143.9 925.7 1149.7"/>
<path class="s" d="M592.2 1085.3L594.1 1100.4L609.3 1102.3L611.2 1089"/>
<path class="s" d="M925.7 1151.6L927.6 1172.4L948.8 1177.9L956 1157.3"/>
<path class="s" d="M930.3 969.6C930.9 969.2 932.5 967.6 934 967C935.5 966.4 936.4 965.9 939.5 966.2C942.6 966.5 946.8 966 952.7 968.8C958.6 971.6 968.2 978.4 975 983C981.8 987.6 990.1 993.8 993.6 996.5C997.1 999.2 995.8 998.8 996.2 999.2"/>
<path class="s" d="M930.3 970.2C932.5 972 939.3 976.8 943.5 980.7C947.7 984.7 950 991.3 955.3 993.9C960.5 996.5 968.4 995.9 975 996.5C981.6 997.1 991.6 997.6 994.9 997.8"/>
<path class="s" d="M955.3 993.9L925 1150.7"/>
<path class="s" d="M996.2 999.2L967.2 1157.3"/>
<path class="s" d="M925 1150.7C928.3 1151.2 938 1152.9 945 1154C952 1155.1 963.5 1156.8 967.2 1157.3"/>
<path class="s" d="M930.3 970.2C929.6 971.8 927.8 975.9 926.4 980C925 984.1 923.3 989.6 922 995C920.7 1000.4 919.1 1009.4 918.5 1012.3"/>
<path class="f" d="M911.5 1010.3C911.8 1010.2 910.7 1008.1 913.2 1009.7C915.7 1011.4 922.2 1015.8 926.4 1020.2C930.6 1024.6 936 1032 938.2 1036C940.4 1040 939.3 1042.7 939.5 1044"/>
</svg>
</body></html>
